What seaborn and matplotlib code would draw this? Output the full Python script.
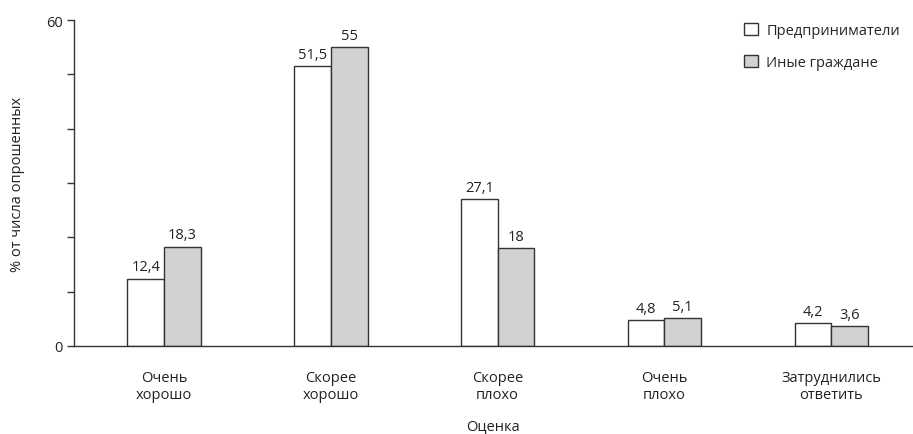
import matplotlib
matplotlib.use("Agg")
import matplotlib.pyplot as plt
import seaborn as sns
import pandas as pd

categories = ["Очень\nхорошо", "Скорее\nхорошо", "Скорее\nплохо", "Очень\nплохо", "Затруднились\nответить"]
entrepreneurs = [12.4, 51.5, 27.1, 4.8, 4.2]
others = [18.3, 55, 18, 5.1, 3.6]
series_names = ["Предприниматели", "Иные граждане"]

sns.set_theme(style="white")
plt.rcParams["font.family"] = ["Open Sans", "DejaVu Sans"]

df = pd.DataFrame({
    "cat": categories * 2,
    "val": entrepreneurs + others,
    "grp": [series_names[0]] * len(categories) + [series_names[1]] * len(categories),
})

fig = plt.figure(figsize=(9.13, 4.35), dpi=100)
ax = fig.add_axes([0.081, 0.2023, 0.919, 0.7494])

sns.barplot(data=df, x="cat", y="val", hue="grp", hue_order=series_names,
            palette=["white", "#d2d2d4"], width=0.44, edgecolor="#333333",
            linewidth=1.0, ax=ax, legend=True)

def fmt(v):
    s = f"{v:g}"
    return s.replace(".", ",")

for cont in ax.containers:
    ax.bar_label(cont, labels=[fmt(v) for v in cont.datavalues], padding=3,
                 fontsize=10.5, color="#222222")

ax.set_xlim(-0.54, 4.49)
ax.set_ylim(0, 60)
ax.set_yticks([0, 10, 20, 30, 40, 50, 60])
ax.set_yticklabels(["0", "", "", "", "", "", "60"])
ax.tick_params(axis="y", direction="out", length=5, width=1, color="#333333",
               labelsize=10.5, labelcolor="#222222", left=True, pad=3)
ax.tick_params(axis="x", length=0, labelsize=10.5, labelcolor="#222222", pad=17)

for s in ["top", "right"]:
    ax.spines[s].set_visible(False)
for s in ["left", "bottom"]:
    ax.spines[s].set_color("#333333")
    ax.spines[s].set_linewidth(1.0)

ax.set_xlabel("Оценка", fontsize=10.5, color="#222222")
ax.xaxis.set_label_coords(0.5, -0.222)
ax.set_ylabel("% от числа опрошенных", fontsize=10.5, color="#222222")
ax.yaxis.set_label_coords(-0.058, 0.5)

leg = ax.legend(loc="upper right", bbox_to_anchor=(1.0, 1.03), frameon=False,
                fontsize=10.5, handlelength=0.9, handleheight=0.9,
                labelspacing=1.15, handletextpad=0.6)

fig.savefig("out.png", dpi=100)
